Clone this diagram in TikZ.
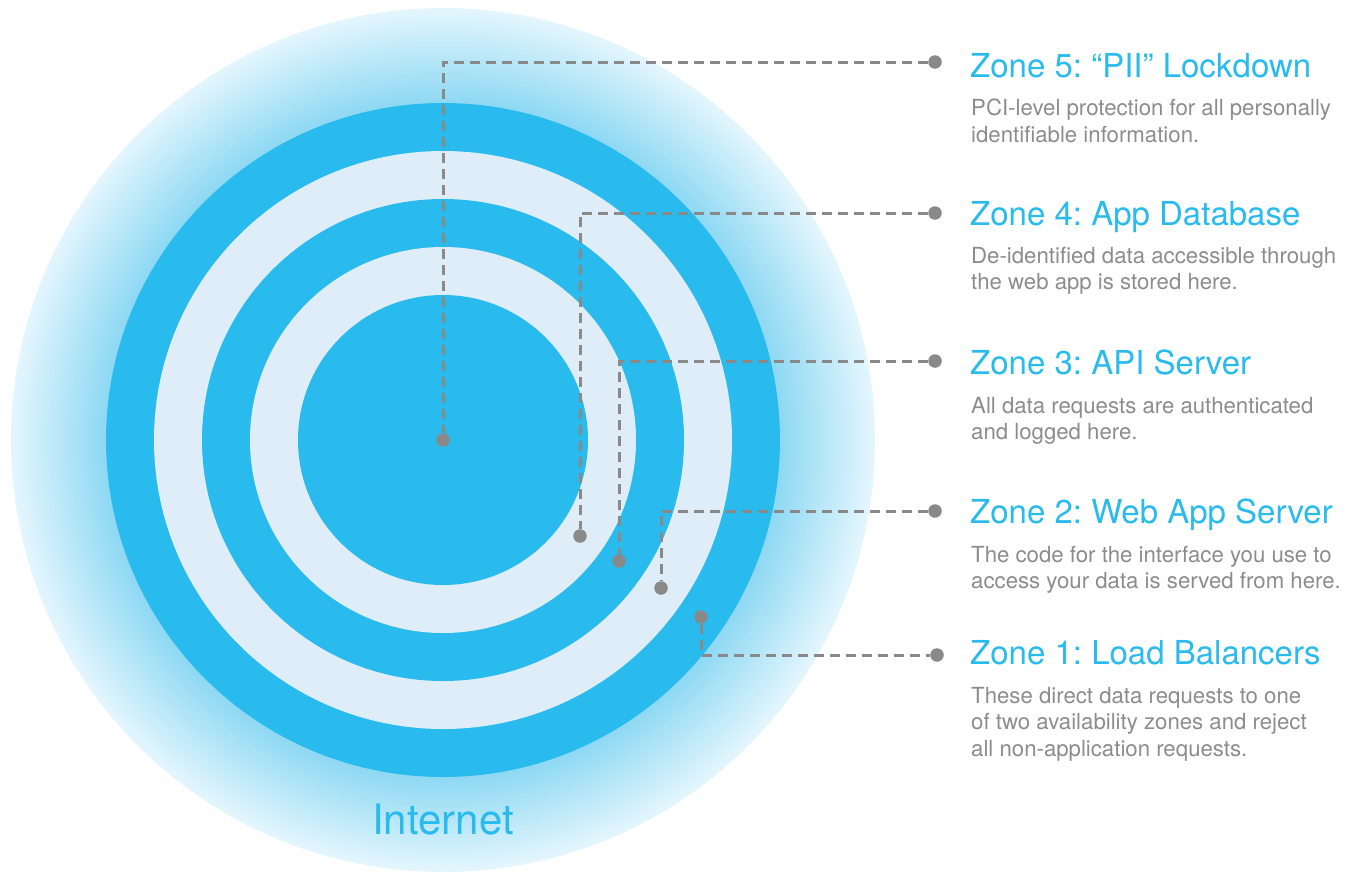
\documentclass[tikz,border=0pt]{standalone}
\usepackage{fontspec}
\setmainfont{TeX Gyre Heros}
\usetikzlibrary{positioning}
\definecolor{ringblue}{RGB}{41,187,238}
\definecolor{ringlight}{RGB}{223,237,248}
\definecolor{glowin}{RGB}{140,216,243}
\definecolor{glowout}{RGB}{228,246,253}
\definecolor{dotgray}{RGB}{137,137,137}
\definecolor{textgray}{RGB}{140,140,140}
\frenchspacing

\tikzset{
    zonedot/.style={circle, fill=dotgray, inner sep=0pt, minimum size=13.5pt},
    leaderline/.style={draw=dotgray, line width=3pt, dash pattern=on 10pt off 6pt},
    zonetitle/.style={anchor=base west, inner sep=0pt, text=ringblue, font=\fontsize{33}{40}\selectfont},
    zonetext/.style={anchor=north west, inner sep=0pt, align=left, text=textgray, font=\fontsize{22.2}{26.5}\selectfont}
}

\begin{document}
\begin{tikzpicture}[x=1pt,y=-1pt]
    \useasboundingbox (0,0) rectangle (1355,871);
    % Glow round the rings
    \foreach \i in {0,...,48} {
        \pgfmathsetmacro{\rad}{432-\i*2}
        \pgfmathsetmacro{\mix}{\i*100/48}
        \fill[glowin!\mix!glowout] (443,440) circle[radius=\rad];
    }
    % Zone rings
    \foreach \rad/\col in {337/ringblue,289/ringlight,241/ringblue,193/ringlight,145/ringblue}
        \fill[\col] (443,440) circle[radius=\rad];
    \node[text=ringblue, font=\fontsize{42}{50}\selectfont, anchor=base, inner sep=0pt] (internet) at (443,834) {Internet};

    % Dots in the rings
    \node[zonedot] (z5in) at (443,440) {};
    \node[zonedot] (z4in) at (580,536) {};
    \node[zonedot] (z3in) at (619,561) {};
    \node[zonedot] (z2in) at (661,588) {};
    \node[zonedot] (z1in) at (701,617) {};
    % Dots by the labels
    \node[zonedot] (z5dot) at (935,62) {};
    \node[zonedot] (z4dot) at (935,213) {};
    \node[zonedot] (z3dot) at (935,361) {};
    \node[zonedot] (z2dot) at (935,511) {};
    \node[zonedot] (z1dot) at (937,655) {};

    \draw[leaderline] (z5dot) -| (z5in);
    \draw[leaderline] (z4dot) -| (z4in);
    \draw[leaderline] (z3dot) -| (z3in);
    \draw[leaderline] (z2dot) -| (z2in);
    \draw[leaderline] (z1in) |- (z1dot);

    % Labels
    \node[zonetitle] (z5title) at (970,77) {Zone 5: “PII” Lockdown};
    \node[zonetext] (z5text) at (971,99) {PCI-level protection for all personally\\identifiable information.};
    \node[zonetitle] (z4title) at (970,225) {Zone 4: App Database};
    \node[zonetext] (z4text) at (971,247) {De-identified data accessible through\\the web app is stored here.};
    \node[zonetitle] (z3title) at (970,374) {Zone 3: API Server};
    \node[zonetext] (z3text) at (971,397) {All data requests are authenticated\\and logged here.};
    \node[zonetitle] (z2title) at (970,523) {Zone 2: Web App Server};
    \node[zonetext] (z2text) at (971,546) {The code for the interface you use to\\access your data is served from here.};
    \node[zonetitle] (z1title) at (970,664) {Zone 1: Load Balancers};
    \node[zonetext] (z1text) at (971,687) {These direct data requests to one\\of two availability zones and reject\\all non-application requests.};
\end{tikzpicture}
\end{document}
